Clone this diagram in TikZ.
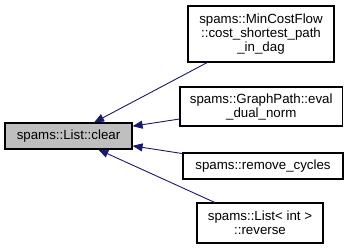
\documentclass[tikz,border=0pt]{standalone}
\usepackage{fontspec}
\setmainfont{Liberation Sans}
\usetikzlibrary{arrows.meta}
\definecolor{edgeblue}{HTML}{191970}
\definecolor{hilite}{HTML}{BFBFBF}
\begin{document}
\begin{tikzpicture}[x=1pt,y=-1pt,
  fn/.style={draw=black,line width=1.1pt,fill=white,inner sep=0pt,align=center,
    font=\fontsize{13.3}{14}\selectfont},
  call/.style={draw=edgeblue,line width=0.9pt,
    -{Triangle[length=10pt,width=8pt,fill=edgeblue]}}]
\useasboundingbox (0,0) rectangle (348,250);
\node[fn,fill=hilite,minimum width=127pt,minimum height=26pt] (clear) at (68.5,136) {spams::List::clear};
\node[fn,minimum width=146pt,minimum height=56pt] (mcf) at (261,34) {spams::MinCostFlow\\::cost\_shortest\_path\\\_in\_dag};
\node[fn,minimum width=162.5pt,minimum height=39pt] (gp) at (261.25,106.5) {spams::GraphPath::eval\\\_dual\_norm};
\node[fn,minimum width=160pt,minimum height=26pt] (rc) at (263,166) {spams::remove\_cycles};
\node[fn,minimum width=126pt,minimum height=40pt] (li) at (260,223) {spams::List\textless{} int \textgreater\\::reverse};
\draw[call] (mcf) -- (clear);
\draw[call] (gp) -- (clear);
\draw[call] (rc) -- (clear);
\draw[call] (li) -- (clear);
\end{tikzpicture}
\end{document}
